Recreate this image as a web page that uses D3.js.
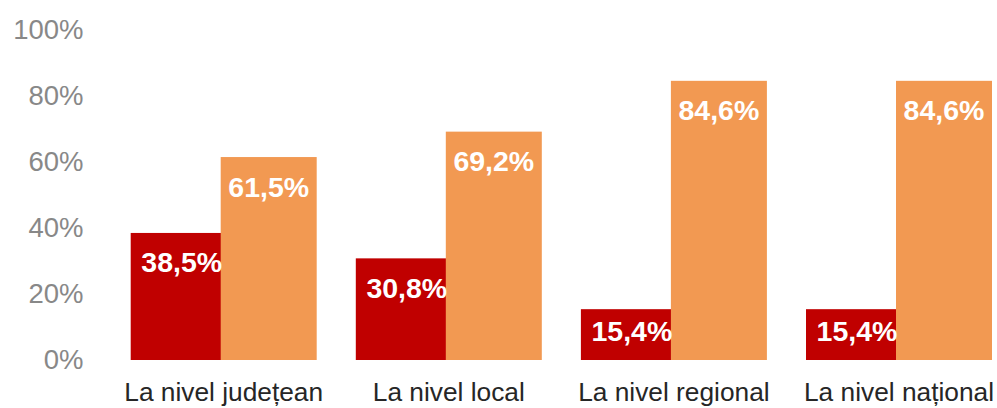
<!DOCTYPE html>
<html>
<head>
<meta charset="utf-8">
<script src="https://cdn.jsdelivr.net/npm/d3@7"></script>
<style>
  html, body { margin: 0; padding: 0; background: #fff; }
  svg { display: block; }
</style>
</head>
<body>
<svg id="chart" width="997" height="408"></svg>
<script>
const categories = ["La nivel județean", "La nivel local", "La nivel regional", "La nivel național"];
const seriesNames = ["A", "B"];
const seriesA = [38.5, 30.8, 15.4, 15.4];
const seriesB = [61.5, 69.2, 84.6, 84.6];
const yTicks = [0, 20, 40, 60, 80, 100];
const colors = ["#C00000", "#F29952"];

const svg = d3.select("#chart");
const font = "'Liberation Sans', Arial, sans-serif";

const x0 = d3.scaleBand().domain(categories).range([130.7, 992]).paddingInner(0.1737).paddingOuter(0);
const x1 = d3.scaleBand().domain(seriesNames).range([0, x0.bandwidth() - 6]).padding(0);
const y = d3.scaleLinear().domain([0, 100]).range([360, 30]);
const color = d3.scaleOrdinal().domain(seriesNames).range(colors);

const data = categories.map((c, i) => ({ cat: c, vals: [
  { s: "A", v: seriesA[i] }, { s: "B", v: seriesB[i] }
]}));

// y axis (labels only)
const yAxis = d3.axisLeft(y).tickValues(yTicks).tickFormat(d => d + "%").tickSize(0).tickPadding(0);
const gy = svg.append("g").attr("transform", "translate(83.5,0)").call(yAxis);
gy.select(".domain").remove();
gy.selectAll("text").attr("fill", "#888888").style("font-family", font).style("font-size", "27.5px");

// x axis labels
const xAxis = d3.axisBottom(x0).tickSize(0).tickPadding(0);
const gx = svg.append("g").attr("transform", "translate(0,382)").call(xAxis);
gx.select(".domain").remove();
gx.selectAll("text").attr("fill", "#262626").attr("dy", "0").attr("y", 19)
  .style("font-family", font).style("font-size", "26.3px");

// bars
const groups = svg.append("g").selectAll("g").data(data).join("g")
  .attr("transform", d => `translate(${x0(d.cat)},0)`);

groups.selectAll("rect").data(d => d.vals).join("rect")
  .attr("x", d => x1(d.s))
  .attr("y", d => y(d.v))
  .attr("width", x1.bandwidth() + 6)
  .attr("height", d => y(0) - y(d.v))
  .attr("fill", d => color(d.s));

groups.selectAll("text.val").data(d => d.vals).join("text")
  .attr("class", "val")
  .attr("x", d => x1(d.s) + (x1.bandwidth() + 6) / 2 + (d.s === "A" ? 3 : 0))
  .attr("y", d => Math.min(y(d.v) + 39.5, y(0) - 19))
  .attr("text-anchor", "middle")
  .attr("fill", "#ffffff")
  .style("font-family", font)
  .style("font-weight", "bold")
  .style("font-size", "28.5px")
  .text(d => d.v.toFixed(1).replace(".", ",") + "%");
</script>
</body>
</html>
